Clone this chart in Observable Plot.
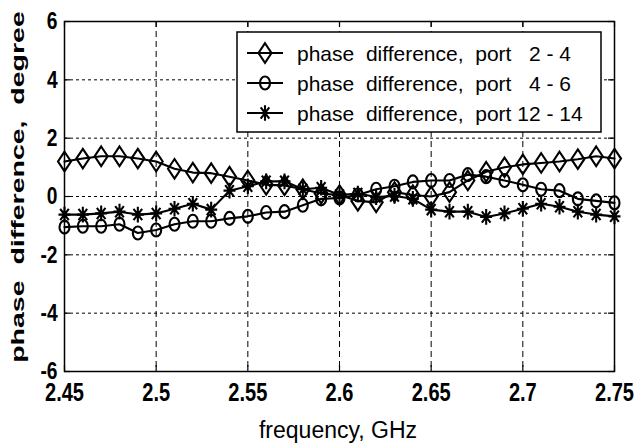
<!DOCTYPE html>
<html>
<head>
<meta charset="utf-8">
<script src="https://cdn.jsdelivr.net/npm/d3@7"></script>
<script src="https://cdn.jsdelivr.net/npm/@observablehq/plot@0.6"></script>
<style>
  html, body { margin: 0; padding: 0; background: #fff; }
  svg { display: block; }
</style>
</head>
<body>
<div id="chart"></div>
<script>
// ---- data ----
const freq = [2.45, 2.46, 2.47, 2.48, 2.49, 2.50, 2.51, 2.52, 2.53, 2.54, 2.55,
              2.56, 2.57, 2.58, 2.59, 2.60, 2.61, 2.62, 2.63, 2.64, 2.65,
              2.66, 2.67, 2.68, 2.69, 2.70, 2.71, 2.72, 2.73, 2.74, 2.75];
const port2_4 = [1.2, 1.3, 1.38, 1.38, 1.3, 1.2, 0.95, 0.82, 0.8, 0.68, 0.55,
                 0.4, 0.38, 0.25, 0.1, 0.05, -0.15, -0.2, 0.15, 0.05, 0.0,
                 0.15, 0.55, 0.85, 1.0, 1.1, 1.15, 1.2, 1.28, 1.38, 1.3];
const port4_6 = [-1.05, -1.02, -1.02, -0.95, -1.25, -1.15, -0.95, -0.85, -0.85, -0.75, -0.68,
                 -0.55, -0.52, -0.3, -0.08, -0.05, 0.05, 0.25, 0.35, 0.5, 0.55,
                 0.55, 0.75, 0.68, 0.55, 0.4, 0.25, 0.2, -0.08, -0.15, -0.22];
const port12_14 = [-0.62, -0.62, -0.58, -0.52, -0.62, -0.58, -0.42, -0.25, -0.45, 0.2, 0.35,
                   0.52, 0.52, 0.25, 0.3, 0.05, 0.1, -0.02, 0.02, -0.08, -0.45,
                   -0.52, -0.52, -0.7, -0.58, -0.42, -0.25, -0.35, -0.52, -0.62, -0.68];
const seriesNames = ["phase  difference,  port   2 - 4",
                     "phase  difference,  port   4 - 6",
                     "phase  difference,  port 12 - 14"];
const xTicks = [2.45, 2.5, 2.55, 2.6, 2.65, 2.7, 2.75];
const xTickLabels = ["2.45", "2.5", "2.55", "2.6", "2.65", "2.7", "2.75"];
const yTicks = [-6, -4, -2, 0, 2, 4, 6];
const yTickLabels = ["-6", "-4", "-2", "0", "2", "4", "6"];
const xLabel = "frequency, GHz";
const yLabel = "phase  difference,  degree";

// ---- marker symbols (slightly taller than wide, as in the picture) ----
const diamondSym = { draw(ctx, size) {
  const r = Math.sqrt(size / Math.PI), w = r, h = r * 1.5;
  ctx.moveTo(0, -h); ctx.lineTo(w, 0); ctx.lineTo(0, h); ctx.lineTo(-w, 0); ctx.closePath();
}};
const circleSym = { draw(ctx, size) {
  const r = Math.sqrt(size / Math.PI), rx = r, ry = r * 1.3, k = 0.5523;
  ctx.moveTo(rx, 0);
  ctx.bezierCurveTo(rx, ry * k, rx * k, ry, 0, ry);
  ctx.bezierCurveTo(-rx * k, ry, -rx, ry * k, -rx, 0);
  ctx.bezierCurveTo(-rx, -ry * k, -rx * k, -ry, 0, -ry);
  ctx.bezierCurveTo(rx * k, -ry, rx, -ry * k, rx, 0);
  ctx.closePath();
}};
const starSym = { draw(ctx, size) {
  const r = Math.sqrt(size / Math.PI), w = r, h = r * 1.3, d = 0.72;
  ctx.moveTo(0, -h); ctx.lineTo(0, h);
  ctx.moveTo(-w, 0); ctx.lineTo(w, 0);
  ctx.moveTo(-w * d, -h * d); ctx.lineTo(w * d, h * d);
  ctx.moveTo(-w * d, h * d); ctx.lineTo(w * d, -h * d);
}};

const seriesValues = [port2_4, port4_6, port12_14];
const symbols = [diamondSym, circleSym, starSym];
const radii = [6.5, 5, 6];
const rows = seriesValues.map(vals => freq.map((f, i) => ({f, v: vals[i]})));

const sans = "'Liberation Sans', Arial, sans-serif";
const lw = 2.1;

const marks = [
  Plot.gridX(xTicks, {stroke: "black", strokeOpacity: 1, strokeWidth: 1, strokeDasharray: "6,4"}),
  Plot.gridY(yTicks, {stroke: "black", strokeOpacity: 1, strokeWidth: 1, strokeDasharray: "3,3"}),
  // inward ticks on all four sides
  Plot.ruleX(xTicks, {stroke: "black", strokeWidth: 1.2, insetTop: 344}),
  Plot.ruleX(xTicks, {stroke: "black", strokeWidth: 1.2, insetBottom: 344}),
  Plot.ruleY(yTicks, {stroke: "black", strokeWidth: 1.2, insetRight: 544}),
  Plot.ruleY(yTicks, {stroke: "black", strokeWidth: 1.2, insetLeft: 544}),
];
rows.forEach((data, k) => {
  marks.push(Plot.line(data, {x: "f", y: "v", stroke: "black", strokeWidth: lw}));
  marks.push(Plot.dot(data, {x: "f", y: "v", symbol: symbols[k], r: radii[k],
    stroke: "black", strokeWidth: lw, fill: "none"}));
});
marks.push(Plot.frame({stroke: "black", strokeWidth: 1.5}));
marks.push(Plot.axisX(xTicks, {tickSize: 0, tickPadding: 11, tickFormat: (d, i) => xTickLabels[i],
  fontSize: 26, fontWeight: "bold", fontFamily: sans, fill: "black", label: null}));
marks.push(Plot.axisY(yTicks, {tickSize: 0, tickPadding: 7, tickFormat: (d, i) => yTickLabels[i],
  fontSize: 24, fontWeight: "bold", fontFamily: sans, fill: "black", label: null}));

const chart = Plot.plot({
  width: 639, height: 447,
  marginLeft: 64, marginRight: 25, marginTop: 21, marginBottom: 76,
  x: {domain: [2.45, 2.75]},
  y: {domain: [-6, 6]},
  style: {background: "white", color: "black", fontFamily: sans},
  marks
});
document.getElementById("chart").appendChild(chart);

// condense the bold tick labels horizontally (narrow look of the reference)
function condense(selector, s, anchor) {
  chart.querySelectorAll(selector).forEach(node => {
    const r = node.getBoundingClientRect();
    const px = anchor === "end" ? r.x + r.width : r.x + r.width / 2;
    const m = node.parentNode.getScreenCTM().inverse();
    const p = new DOMPoint(px, r.y).matrixTransform(m);
    const prev = node.getAttribute("transform") || "";
    node.setAttribute("transform", `translate(${p.x},0) scale(${s},1) translate(${-p.x},0) ${prev}`);
  });
}
condense("g[aria-label='x-axis tick label'] text", 0.77, "middle");
condense("g[aria-label='y-axis tick label'] text", 0.8, "end");

// ---- axis titles and legend ----
const svg = d3.select(chart);
svg.append("text")
  .attr("x", 338).attr("y", 438)
  .attr("text-anchor", "middle")
  .attr("font-family", sans)
  .attr("font-size", 23).attr("fill", "black")
  .text(xLabel);
svg.append("text")
  .attr("transform", "translate(24,187) rotate(-90) scale(1.5,1)")
  .attr("text-anchor", "middle")
  .attr("font-family", sans)
  .attr("font-size", 19).attr("font-weight", "bold").attr("fill", "black")
  .style("white-space", "pre")
  .text(yLabel);

const lg = svg.append("g").attr("text-anchor", "start");
lg.append("rect").attr("x", 237).attr("y", 32).attr("width", 364).attr("height", 100)
  .attr("fill", "white").attr("stroke", "black").attr("stroke-width", 1.5);
seriesNames.forEach((name, k) => {
  const cy = 53 + 30 * k;
  lg.append("line").attr("x1", 247).attr("x2", 283).attr("y1", cy).attr("y2", cy)
    .attr("stroke", "black").attr("stroke-width", lw);
  lg.append("path").attr("transform", `translate(265,${cy})`)
    .attr("d", d3.symbol(symbols[k], Math.PI * radii[k] * radii[k])())
    .attr("fill", "none").attr("stroke", "black").attr("stroke-width", lw);
  lg.append("text").attr("x", 297).attr("y", cy + 7.5)
    .attr("text-anchor", "start")
    .attr("font-family", sans)
    .attr("font-size", 21).attr("fill", "black")
    .style("white-space", "pre")
    .text(name);
});
</script>
</body>
</html>
